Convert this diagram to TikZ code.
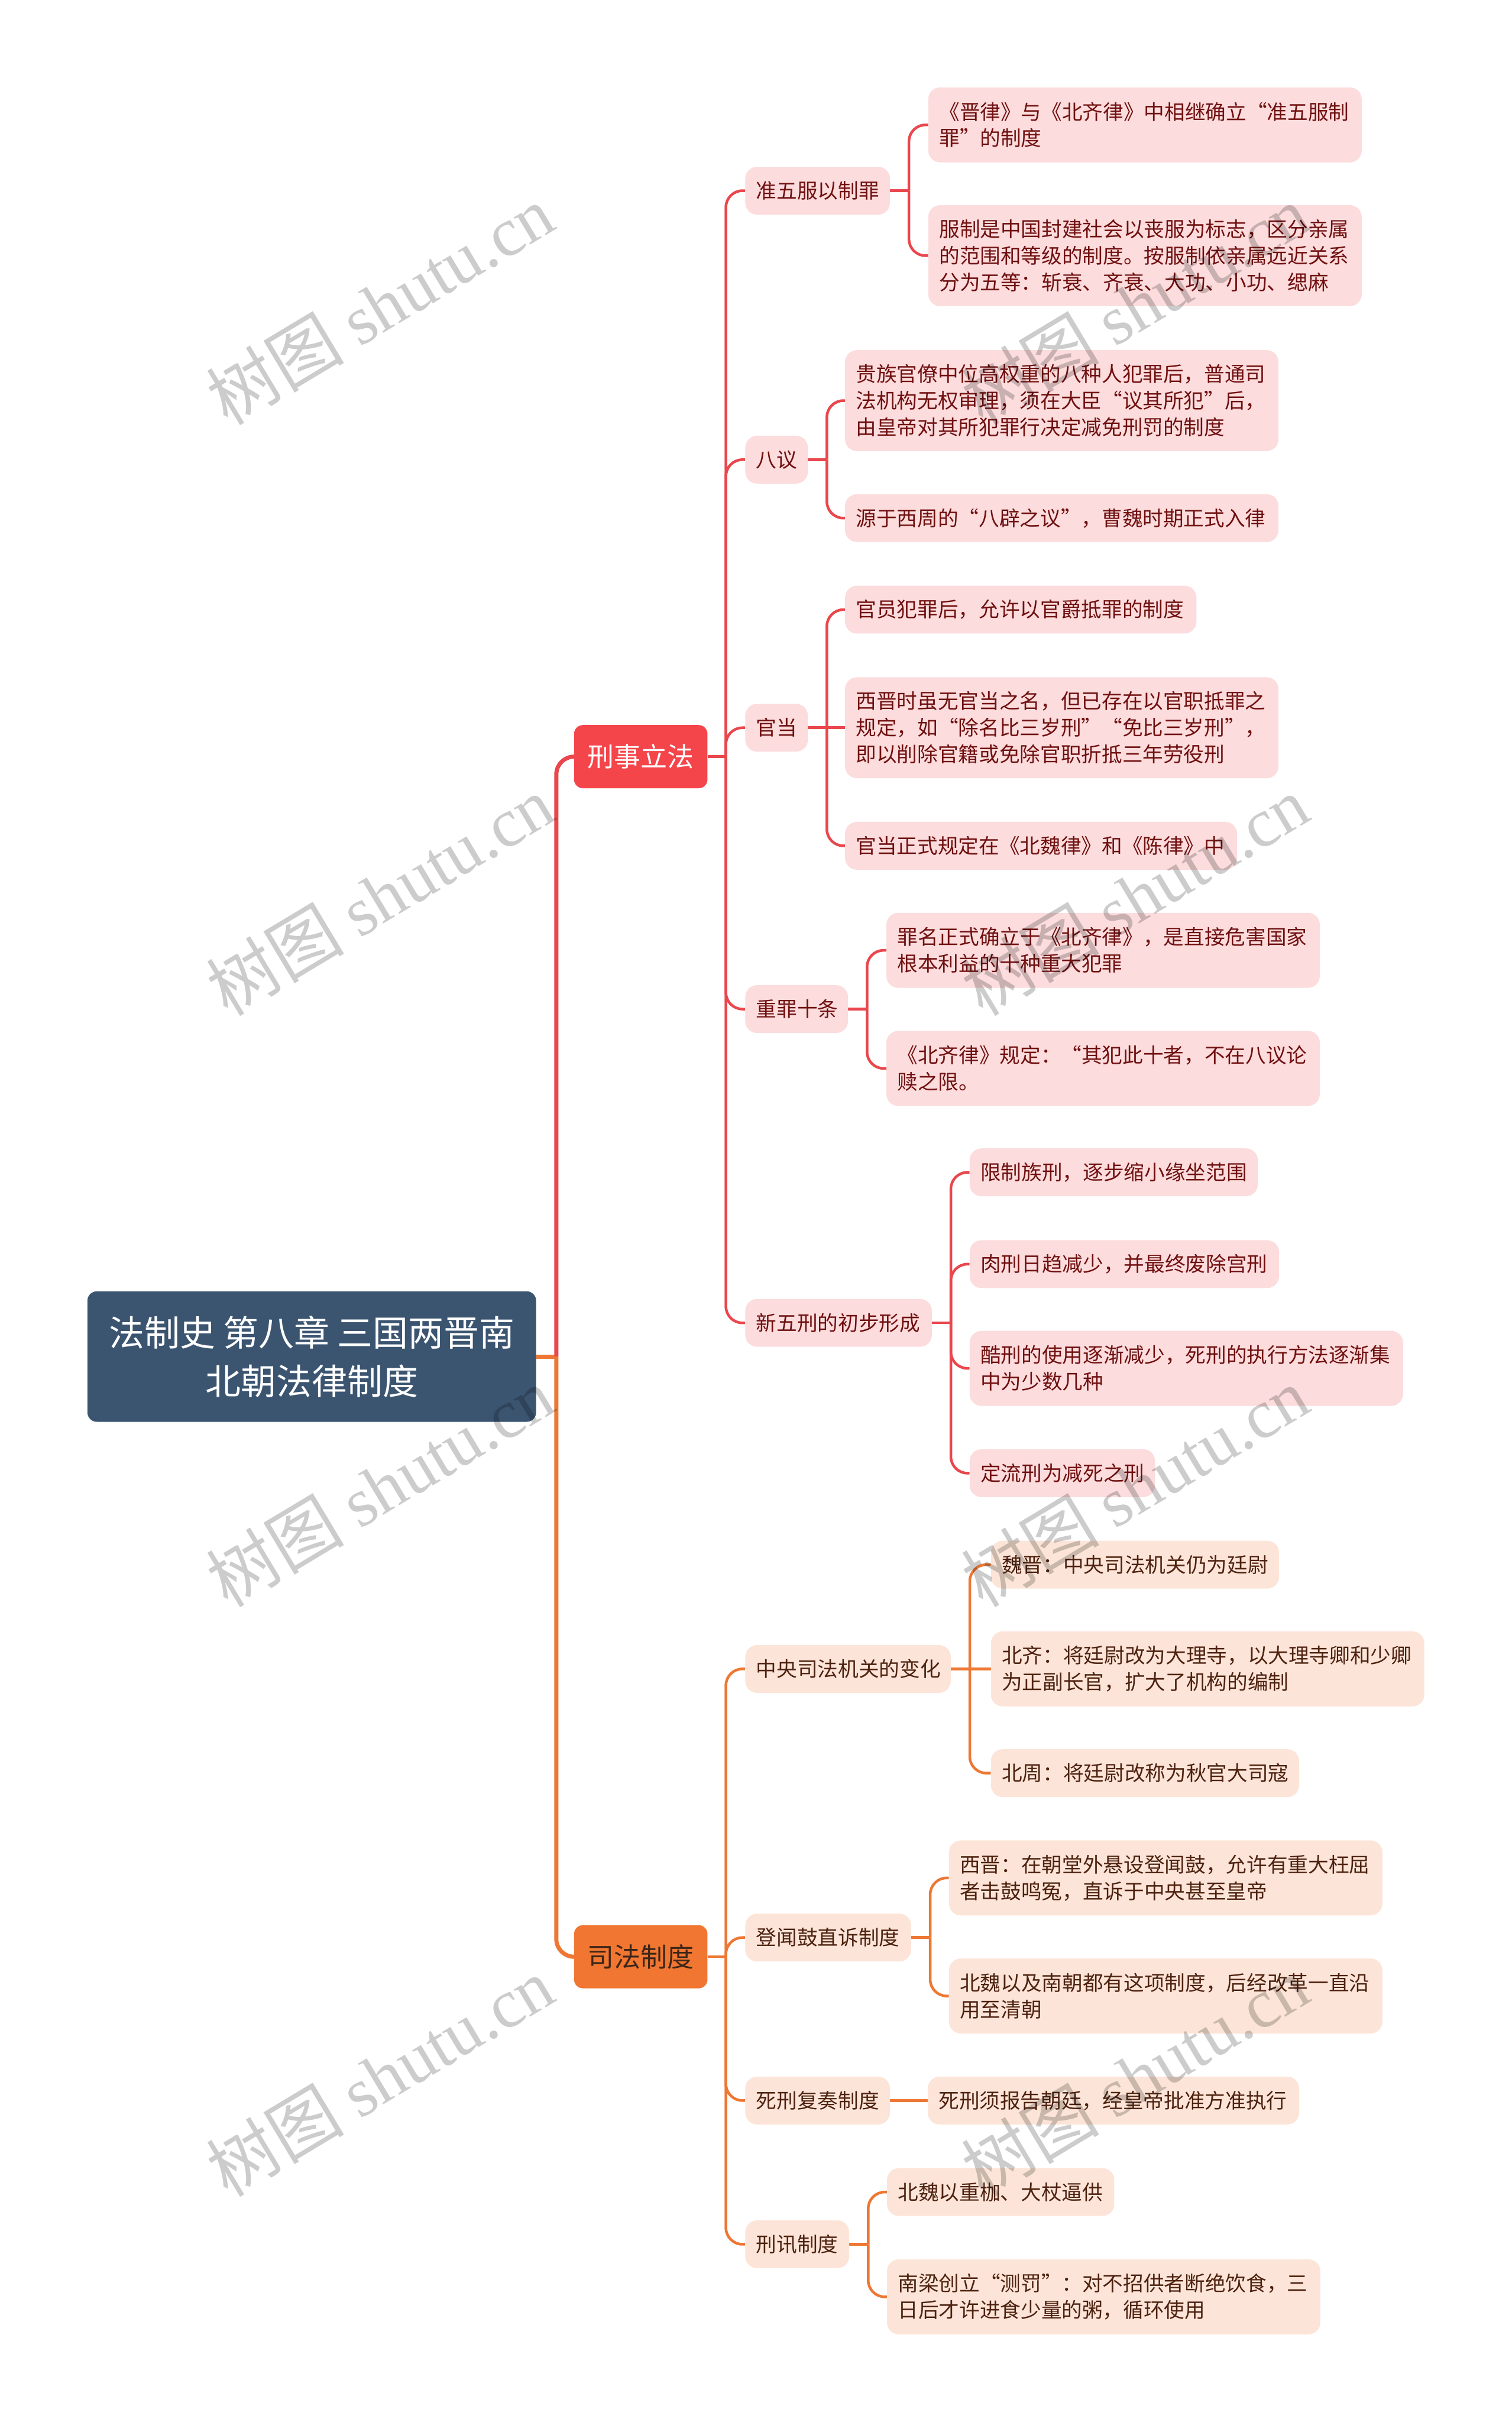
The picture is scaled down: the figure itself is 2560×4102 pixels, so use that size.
\documentclass[tikz,border=0pt]{standalone}
\usepackage{fontspec}
\setmainfont{Noto Sans CJK SC}
\newfontfamily\wmlatin{Liberation Serif}
\usetikzlibrary{calc}
\pgfdeclarelayer{bg}
\pgfsetlayers{bg,main}
\definecolor{rootblue}{HTML}{3B5571}
\definecolor{redmain}{HTML}{F4454B}
\definecolor{redline}{HTML}{E9474D}
\definecolor{pinkfill}{HTML}{FCDCDD}
\definecolor{redtext}{HTML}{701010}
\definecolor{orangemain}{HTML}{F07632}
\definecolor{orangeline}{HTML}{EE7733}
\definecolor{peachfill}{HTML}{FCE5D8}
\definecolor{browntext}{HTML}{4E2210}
\definecolor{orangetext}{HTML}{3C2618}
\newcommand\leaffont{\fontsize{34.7pt}{45pt}\selectfont}
\tikzset{
  rootbox/.style={fill=rootblue, text=white, rounded corners=16pt, minimum width=760pt,
    minimum height=221pt, align=center, inner sep=0pt, font=\fontsize{60pt}{82pt}\selectfont},
  mainbox/.style={anchor=west, minimum width=226pt, minimum height=107pt, rounded corners=15pt,
    inner sep=0pt, font=\fontsize{45pt}{54pt}\selectfont},
  nb/.style={anchor=west, rounded corners=20pt, inner xsep=18.5pt, inner ysep=0pt, align=left,
    font=\leaffont, minimum height=81pt},
  rn/.style={nb, fill=pinkfill, text=redtext},
  on/.style={nb, fill=peachfill, text=browntext},
  ln2/.style={minimum height=127pt},
  ln3/.style={minimum height=171pt},
  rootline/.style={line width=7pt, rounded corners=30pt},
  rc/.style={draw=redline, line width=4.5pt, rounded corners=28pt},
  oc/.style={draw=orangeline, line width=4.5pt, rounded corners=28pt},
  wm/.style={rotate=31, text=black, text opacity=0.2, inner sep=0pt, font=\fontsize{117pt}{117pt}\selectfont},
}
\begin{document}
\begin{tikzpicture}[x=1pt,y=-1pt]
\useasboundingbox (0,0) rectangle (2560,4102);

% root and main branches
\node[rootbox] (root) at (528,2297.5) {法制史 第八章 三国两晋南\\北朝法律制度};
\node[mainbox, fill=redmain, text=white] (xs) at (972,1281.5) {刑事立法};
\node[mainbox, fill=orangemain, text=orangetext] (sf) at (972,3314) {司法制度};

% red level 2
\node[rn, text width=208pt] (A) at (1262,323) {准五服以制罪};
\node[rn, text width=69pt] (B) at (1262,778.5) {八议};
\node[rn, text width=69pt] (C) at (1262,1232.5) {官当};
\node[rn, text width=137pt] (D) at (1262,1709) {重罪十条};
\node[rn, text width=279pt] (E) at (1262,2240.5) {新五刑的初步形成};

% red leaves
\node[rn, ln2, text width=697pt] (A1) at (1572,211.5) {《晋律》与《北齐律》中相继确立“准五服制\\罪”的制度};
\node[rn, ln3, text width=697pt] (A2) at (1572,433) {服制是中国封建社会以丧服为标志，区分亲属\\的范围和等级的制度。按服制依亲属远近关系\\分为五等：斩衰、齐衰、大功、小功、缌麻};
\node[rn, ln3, text width=697pt] (B1) at (1431,678.5) {贵族官僚中位高权重的八种人犯罪后，普通司\\法机构无权审理，须在大臣“议其所犯”后，\\由皇帝对其所犯罪行决定减免刑罚的制度};
\node[rn, text width=697pt] (B2) at (1431,877.5) {源于西周的“八辟之议”，曹魏时期正式入律};
\node[rn, text width=558pt] (C1) at (1431,1032.5) {官员犯罪后，允许以官爵抵罪的制度};
\node[rn, ln3, text width=697pt] (C2) at (1431,1232.5) {西晋时虽无官当之名，但已存在以官职抵罪之\\规定，如“除名比三岁刑”“免比三岁刑”，\\即以削除官籍或免除官职折抵三年劳役刑};
\node[rn, text width=627pt] (C3) at (1431,1432.5) {官当正式规定在《北魏律》和《陈律》中};
\node[rn, ln2, text width=697pt] (D1) at (1501,1609.5) {罪名正式确立于《北齐律》，是直接危害国家\\根本利益的十种重大犯罪};
\node[rn, ln2, text width=697pt] (D2) at (1501,1809.5) {《北齐律》规定：“其犯此十者，不在八议论\\赎之限。};
\node[rn, text width=451pt] (E1) at (1642,1985.5) {限制族刑，逐步缩小缘坐范围};
\node[rn, text width=487pt] (E2) at (1642,2141) {肉刑日趋减少，并最终废除宫刑};
\node[rn, ln2, text width=697pt] (E3) at (1642,2317.5) {酷刑的使用逐渐减少，死刑的执行方法逐渐集\\中为少数几种};
\node[rn, text width=277pt] (E4) at (1642,2495) {定流刑为减死之刑};

% orange level 2
\node[on, text width=311pt] (F) at (1262,2826.5) {中央司法机关的变化};
\node[on, text width=244pt] (G) at (1262,3281.5) {登闻鼓直诉制度};
\node[on, text width=208pt] (H) at (1262,3557.5) {死刑复奏制度};
\node[on, text width=139pt] (I) at (1262,3801) {刑讯制度};

% orange leaves
\node[on, text width=451pt] (F1) at (1678,2650) {魏晋：中央司法机关仍为廷尉};
\node[on, ln2, text width=697pt] (F2) at (1678,2826.5) {北齐：将廷尉改为大理寺，以大理寺卿和少卿\\为正副长官，扩大了机构的编制};
\node[on, text width=485pt] (F3) at (1678,3003) {北周：将廷尉改称为秋官大司寇};
\node[on, ln2, text width=697pt] (G1) at (1607,3180.5) {西晋：在朝堂外悬设登闻鼓，允许有重大枉屈\\者击鼓鸣冤，直诉于中央甚至皇帝};
\node[on, ln2, text width=697pt] (G2) at (1607,3380.5) {北魏以及南朝都有这项制度，后经改革一直沿\\用至清朝};
\node[on, text width=592pt] (H1) at (1571,3557.5) {死刑须报告朝廷，经皇帝批准方准执行};
\node[on, text width=348pt] (I1) at (1502,3712.5) {北魏以重枷、大杖逼供};
\node[on, ln2, text width=697pt] (I2) at (1502,3890) {南梁创立“测罚”：对不招供者断绝饮食，三\\日后才许进食少量的粥，循环使用};

\begin{pgfonlayer}{bg}
\fill[white] (0,0) rectangle (2560,4102);
% root connectors
\coordinate (rj) at ($(root.east)+(34,0)$);
\draw[rootline, draw=orangeline] (root.east) -- (rj);
\draw[rootline, draw=redline] (rj) |- (xs.west);
\draw[rootline, draw=orangeline] (rj) |- (sf.west);
% red main -> level 2
\coordinate (xsj) at ($(xs.east)+(31,0)$);
\draw[rc] (xs.east) -- (xsj);
\foreach \n in {A,B,C,D,E} \draw[rc] (xsj) |- (\n.west);
% red level 2 -> leaves
\coordinate (Aj) at ($(A.east)+(32,0)$);
\draw[rc] (A.east) -- (Aj);
\draw[rc] (Aj) |- (A1.west);
\draw[rc] (Aj) |- (A2.west);
\coordinate (Bj) at ($(B.east)+(32,0)$);
\draw[rc] (B.east) -- (Bj);
\draw[rc] (Bj) |- (B1.west);
\draw[rc] (Bj) |- (B2.west);
\coordinate (Cj) at ($(C.east)+(32,0)$);
\draw[rc] (C.east) -- (C2.west);
\draw[rc] (Cj) |- (C1.west);
\draw[rc] (Cj) |- (C3.west);
\coordinate (Dj) at ($(D.east)+(32,0)$);
\draw[rc] (D.east) -- (Dj);
\draw[rc] (Dj) |- (D1.west);
\draw[rc] (Dj) |- (D2.west);
\coordinate (Ej) at ($(E.east)+(32,0)$);
\draw[rc] (E.east) -- (Ej);
\foreach \n in {E1,E2,E3,E4} \draw[rc] (Ej) |- (\n.west);
% orange main -> level 2
\coordinate (sfj) at ($(sf.east)+(31,0)$);
\draw[oc] (sf.east) -- (sfj);
\foreach \n in {F,G,H,I} \draw[oc] (sfj) |- (\n.west);
% orange level 2 -> leaves
\coordinate (Fj) at ($(F.east)+(32,0)$);
\draw[oc] (F.east) -- (F2.west);
\draw[oc] (Fj) |- (F1.west);
\draw[oc] (Fj) |- (F3.west);
\coordinate (Gj) at ($(G.east)+(32,0)$);
\draw[oc] (G.east) -- (Gj);
\draw[oc] (Gj) |- (G1.west);
\draw[oc] (Gj) |- (G2.west);
\draw[oc] (H.east) -- (H1.west);
\coordinate (Ij) at ($(I.east)+(32,0)$);
\draw[oc] (I.east) -- (Ij);
\draw[oc] (Ij) |- (I1.west);
\draw[oc] (Ij) |- (I2.west);
\end{pgfonlayer}

% watermarks
\foreach \wx/\wy [count=\k] in {643/516,643/1517,643/2518,643/3517,1922/516,1922/1517,1922/2518,1922/3517}
  \node[wm] (wm\k) at (\wx,\wy) {树图 {\wmlatin shutu.cn}};
\end{tikzpicture}
\end{document}
